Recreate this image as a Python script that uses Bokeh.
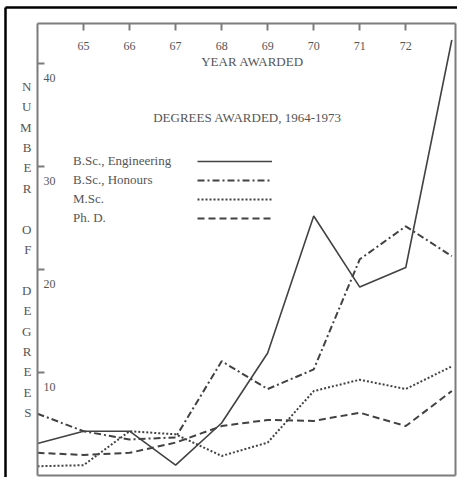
from bokeh.plotting import figure
from bokeh.models import Legend, LegendItem, Label, FixedTicker, Range1d, ColumnDataSource, LinearAxis
from bokeh.core.properties import value
from bokeh.embed import file_html
from bokeh.resources import INLINE

# ---- data ----
years = [64, 65, 66, 67, 68, 69, 70, 71, 72, 73]
bsc_engineering = [3.1, 4.3, 4.3, 1.0, 5.1, 11.9, 25.2, 18.3, 20.2, 42.3]
bsc_honours = [6.0, 4.3, 3.5, 3.7, 11.1, 8.4, 10.3, 21.0, 24.2, 21.3]
msc = [0.9, 1.0, 4.3, 4.0, 1.9, 3.2, 8.2, 9.3, 8.4, 10.6]
phd = [2.2, 2.0, 2.2, 3.2, 4.8, 5.4, 5.3, 6.1, 4.8, 8.2]

series_names = ["B.Sc., Engineering", "B.Sc., Honours", "M.Sc.", "Ph. D."]
x_ticks = [65, 66, 67, 68, 69, 70, 71, 72]
x_tick_labels = ["65", "66", "67", "68", "69", "70", "71", "72"]
y_ticks = [10, 20, 30, 40]
y_tick_labels = ["10", "20", "30", "40"]
chart_title = "DEGREES AWARDED, 1964-1973"
x_title = "YEAR AWARDED"
y_title = "NUMBER OF DEGREES"

X_MIN, X_MAX = 64, 73.08
Y_MIN, Y_MAX = 0, 43.9

FONT = "Liberation Serif"
TXT = "#555555"
LINE = "#424242"
FRAME = "#7c7c7c"

# ---- pixel layout ----
W, H = 457, 477
FL, FT, FR, FB = 5, 7, 457, 477      # Bokeh frame = inside of the black scan border
BL, BT, BR, BB = 37, 23, 455, 475    # the chart's own grey box
sx = (BR - BL) / (X_MAX - X_MIN)
sy = (BB - BT) / (Y_MAX - Y_MIN)
def dx(px):
    return X_MIN + (px - BL) / sx
def dy(py):
    return Y_MIN + (BB - py) / sy

p = figure(width=W, height=H, output_backend="svg", toolbar_location=None,
           x_range=Range1d(dx(FL), dx(FR)), y_range=Range1d(dy(FB), dy(FT)),
           x_axis_location="above", y_axis_location="left",
           min_border_left=FL, min_border_right=W - FR, min_border_top=FT, min_border_bottom=H - FB)
p.background_fill_color = "white"
p.border_fill_color = "white"
p.outline_line_color = None
p.xgrid.visible = False
p.ygrid.visible = False

# default axes -> the black scan border along the top and left edges
for ax in (p.xaxis[0], p.yaxis[0]):
    ax.ticker = FixedTicker(ticks=[])
    ax.axis_line_color = "black"
    ax.axis_line_width = 2.5
    ax.major_tick_line_color = None
    ax.minor_tick_line_color = None
    ax.major_label_standoff = 0

def grey_axis(**kw):
    ax = LinearAxis(axis_line_color=FRAME, axis_line_width=2, major_tick_line_color=FRAME,
                    major_tick_line_width=2, major_tick_in=7, major_tick_out=0,
                    minor_tick_line_color=None, major_label_standoff=0, **kw)
    return ax

ax_top = grey_axis(fixed_location=Y_MAX, bounds=(X_MIN, X_MAX), ticker=FixedTicker(ticks=x_ticks),
                   major_label_overrides={t: "" for t in x_ticks})
ax_left = grey_axis(fixed_location=X_MIN, bounds=(Y_MIN, Y_MAX), ticker=FixedTicker(ticks=y_ticks),
                    major_label_overrides={t: "" for t in y_ticks})
ax_right = grey_axis(fixed_location=X_MAX, bounds=(Y_MIN, Y_MAX), ticker=FixedTicker(ticks=[]))
ax_bottom = grey_axis(fixed_location=Y_MIN, bounds=(X_MIN, X_MAX), ticker=FixedTicker(ticks=[]))

# stacked y-axis title, letters one under another, left of the grey box
ax_left.axis_label = "\n\n".join("\n".join(list(w)) for w in y_title.split(" "))
ax_left.axis_label_orientation = "horizontal"
ax_left.axis_label_standoff = 6
ax_left.axis_label_text_font = FONT
ax_left.axis_label_text_font_style = "normal"
ax_left.axis_label_text_font_size = "13px"
ax_left.axis_label_text_color = TXT
ax_left.axis_label_text_line_height = 1.36

p.add_layout(ax_top, "above")
p.add_layout(ax_left, "left")
p.add_layout(ax_right, "right")
p.add_layout(ax_bottom, "below")

# tick labels inside the grey box
xl_src = ColumnDataSource(dict(x=x_ticks, y=[Y_MAX] * len(x_ticks), t=x_tick_labels))
p.text(x="x", y="y", text="t", source=xl_src, y_offset=22, text_align="center",
       text_baseline="middle", text_font=value(FONT), text_font_size="12px", text_color=TXT)
yl_src = ColumnDataSource(dict(x=[X_MIN] * len(y_ticks), y=y_ticks, t=y_tick_labels))
p.text(x="x", y="y", text="t", source=yl_src, x_offset=6, y_offset=14, text_align="left",
       text_baseline="middle", text_font=value(FONT), text_font_size="12px", text_color=TXT)

# series
src = ColumnDataSource(dict(year=years, eng=bsc_engineering, hon=bsc_honours, msc=msc, phd=phd))
r_eng = p.line("year", "eng", source=src, line_color=LINE, line_width=1.6)
r_hon = p.line("year", "hon", source=src, line_color=LINE, line_width=2, line_dash="7 3 2 3")
r_msc = p.line("year", "msc", source=src, line_color=LINE, line_width=2, line_dash="2 2")
r_phd = p.line("year", "phd", source=src, line_color=LINE, line_width=2, line_dash="7 4")
renderers = [r_eng, r_hon, r_msc, r_phd]

common = dict(glyph_height=16, label_height=16, spacing=3, padding=0, margin=0,
              border_line_color=None, background_fill_alpha=0,
              label_text_font=FONT, label_text_font_size="13px", label_text_color=TXT)
legend_labels = Legend(items=[LegendItem(label=n, renderers=[r]) for n, r in zip(series_names, renderers)],
                       location=(73 - FL, FB - 226), glyph_width=0, label_standoff=0, **common)
legend_lines = Legend(items=[LegendItem(label="", renderers=[r]) for r in renderers],
                      location=(197 - FL, FB - 226), glyph_width=75, label_standoff=0, label_width=0, **common)
p.add_layout(legend_labels)
p.add_layout(legend_lines)

p.add_layout(Label(x=dx(247), y=dy(117), text=chart_title, text_align="center", text_baseline="middle",
                   text_font=FONT, text_font_size="13px", text_color=TXT))
p.add_layout(Label(x=dx(252), y=dy(61), text=x_title, text_align="center", text_baseline="middle",
                   text_font=FONT, text_font_size="13px", text_color=TXT))

open("out.html", "w").write(file_html(p, INLINE))
